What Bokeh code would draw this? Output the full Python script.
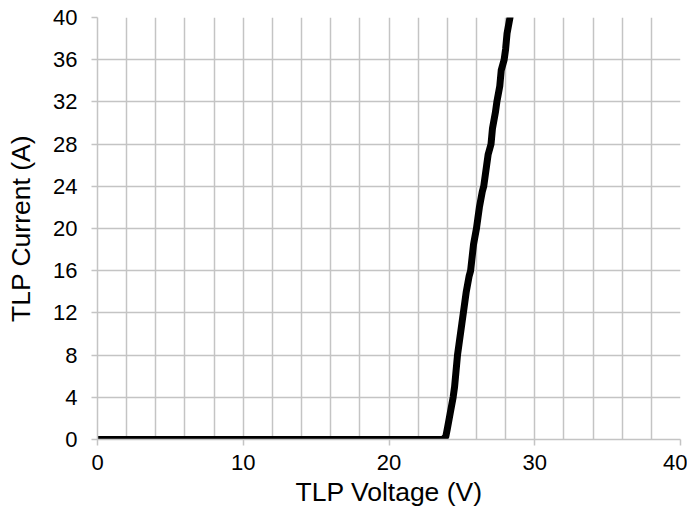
from bokeh.plotting import figure
from bokeh.models import FixedTicker, ColumnDataSource
from bokeh.embed import file_html
from bokeh.resources import INLINE

# TLP I-V curve data
voltage = [0.0, 5.0, 10.0, 15.0, 20.0, 23.0, 23.7, 23.9, 24.0, 24.2, 24.4, 24.5,
           24.7, 24.8, 25.0, 25.1, 25.3, 25.5, 25.6, 25.8, 26.0, 26.1, 26.2,
           26.4, 26.5, 26.7, 26.8, 27.0, 27.1, 27.3, 27.4, 27.6, 27.7, 27.9,
           28.0, 28.1, 28.3]
current = [0.0, 0.0, 0.0, 0.0, 0.0, 0.0, 0.0, 0.3, 1.0, 2.5, 4.0, 5.0,
           8.0, 9.0, 11.0, 12.0, 14.0, 15.5, 16.0, 18.5, 20.0, 21.0, 22.0,
           23.5, 24.0, 26.0, 27.0, 28.0, 29.5, 31.0, 32.0, 33.5, 35.0, 36.0,
           37.0, 38.5, 40.0]

x_ticks = [0, 10, 20, 30, 40]
y_ticks = [0, 4, 8, 12, 16, 20, 24, 28, 32, 36, 40]
x_grid = list(range(0, 41, 2))

grid_color = "#c4c4c4"
font = "Liberation Sans"

p = figure(frame_width=583, frame_height=422, output_backend="svg",
           toolbar_location=None, x_range=(0, 40), y_range=(0, 40),
           min_border_left=97, min_border_right=7, min_border_top=17,
           min_border_bottom=60)
p.outline_line_color = None
p.background_fill_color = "white"

p.xaxis.ticker = FixedTicker(ticks=x_ticks)
p.yaxis.ticker = FixedTicker(ticks=y_ticks)
p.xgrid.ticker = FixedTicker(ticks=x_grid)
p.ygrid.ticker = FixedTicker(ticks=y_ticks)
for g in (p.xgrid, p.ygrid):
    g.grid_line_color = grid_color
    g.grid_line_width = 1.5

for ax in (p.xaxis, p.yaxis):
    ax.axis_line_color = grid_color
    ax.axis_line_width = 1.5
    ax.major_tick_line_color = grid_color
    ax.major_tick_line_width = 1.5
    ax.major_tick_in = 0
    ax.major_tick_out = 6
    ax.minor_tick_line_color = None
    ax.major_label_text_font = font
    ax.major_label_text_font_size = "22px"
    ax.major_label_text_color = "black"
    ax.axis_label_text_font = font
    ax.axis_label_text_font_size = "26.5px"
    ax.axis_label_text_font_style = "normal"
    ax.axis_label_text_color = "black"

p.xaxis.major_label_standoff = 9
p.yaxis.major_label_standoff = 14
p.xaxis.axis_label = "TLP Voltage (V)"
p.yaxis.axis_label = "TLP Current (A)"
p.xaxis.axis_label_standoff = 4
p.yaxis.axis_label_standoff = 14

src = ColumnDataSource(data=dict(v=voltage, i=current))
p.line("v", "i", source=src, line_color="black", line_width=7,
       line_join="round", line_cap="round")

open("out.html", "w").write(file_html(p, INLINE))
